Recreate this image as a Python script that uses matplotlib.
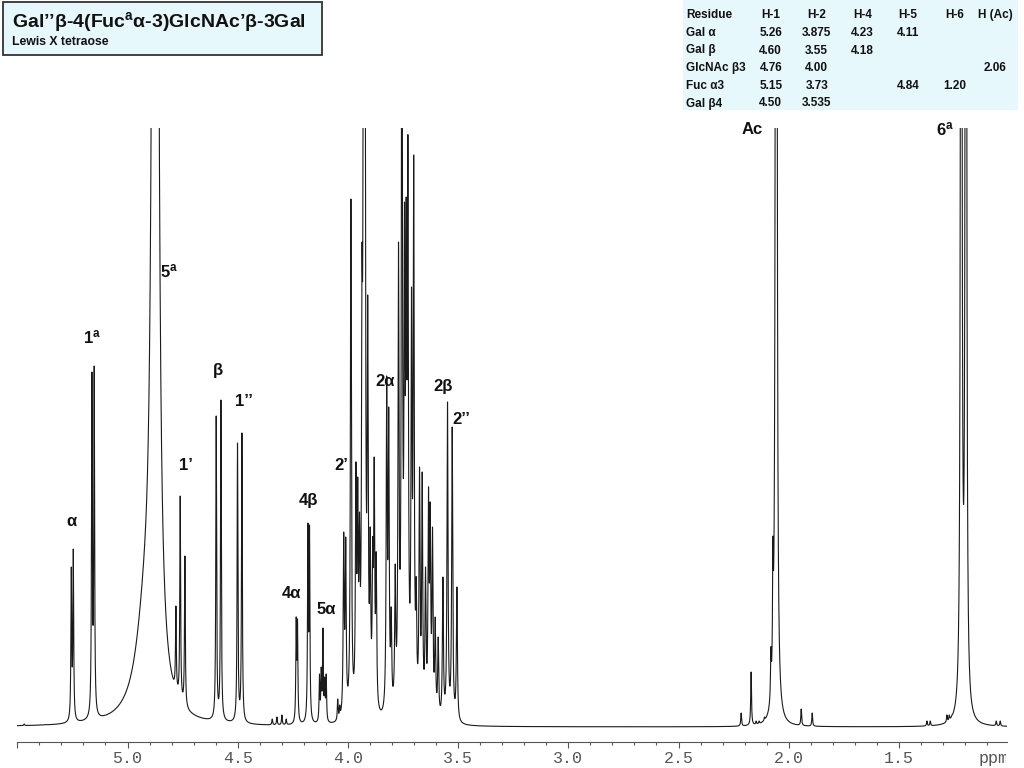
import numpy as np
import matplotlib.pyplot as plt
from matplotlib.patches import Rectangle
from matplotlib.transforms import Bbox, TransformedBbox

plt.rcParams['mathtext.fontset'] = 'custom'
plt.rcParams['mathtext.rm'] = 'Liberation Sans'
plt.rcParams['mathtext.bf'] = 'Liberation Sans:bold'
plt.rcParams['mathtext.it'] = 'Liberation Sans:italic'

# peak list: shift (ppm), apparent height above baseline
peak_ppm = [5.469, 5.373,
            5.255, 5.246, 5.1615, 5.1511,
            4.7804, 4.7609, 4.7396,
            4.5976, 4.5762, 4.5009, 4.4809,
            4.3435, 4.3221, 4.2995, 4.2800,
            4.2346, 4.2287, 4.1815, 4.1742,
            4.1289, 4.1211, 4.1134, 4.1053, 4.0985,
            4.0463, 4.0372,
            4.0191, 4.0100, 3.9864, 3.9637, 3.9555, 3.9474, 3.9360, 3.9292,
            3.9224, 3.9102, 3.8988, 3.8875, 3.8807, 3.8716, 3.8240, 3.8149,
            3.8035, 3.7854, 3.7704, 3.7550, 3.7432, 3.7355, 3.7278, 3.7114,
            3.7015, 3.6901, 3.6751, 3.6629, 3.6479, 3.6343, 3.6266, 3.6162,
            3.6039, 3.5903, 3.5690, 3.5481, 3.5268, 3.5055,
            2.2159, 2.1706, 2.1479, 2.1343, 2.1099, 2.0808, 2.0717, 2.0567,
            1.9433, 1.8934,
            1.3729, 1.3579, 1.2822, 1.2717, 1.2595, 1.2173, 1.1960,
            1.0585, 1.0404]
peak_h = [3, 2,
          160, 178, 355, 361,
          121, 231, 171,
          311, 327, 284, 294,
          8, 10, 12, 8,
          110, 108, 204, 202,
          53, 60, 99, 50, 53,
          28, 22,
          195, 190, 528, 265, 250, 215, 480, 900,
          850, 432, 200, 190, 270, 175, 351, 320,
          120, 163, 485, 900, 525, 530, 592, 440,
          572, 150, 260, 255, 160, 240, 225, 200,
          110, 90, 150, 325, 300, 140,
          14, 55, 6, 6, 10, 80, 190, 4000,
          18, 14,
          6, 6, 12, 12, 12, 3000, 3000,
          6, 6]
line_w = 0.0021      # half width of the sharp lines (ppm)
cluster_w = 0.0027   # slightly broader in the crowded 3.5-4.02 ppm region

# HOD / Fuc H-5 hump
water_ppm = [4.874, 4.92]
water_h = [4000, 90]
water_w = [0.0074, 0.05]

residues = ['Residue', 'Gal \u03b1', 'Gal \u03b2', 'GlcNAc \u03b23', 'Fuc \u03b13', 'Gal \u03b24']
columns = ['H-1', 'H-2', 'H-4', 'H-5', 'H-6', 'H (Ac)']
table_vals = [['5.26', '3.875', '4.23', '4.11', '', ''],
              ['4.60', '3.55', '4.18', '', '', ''],
              ['4.76', '4.00', '', '', '', '2.06'],
              ['5.15', '3.73', '', '4.84', '1.20', ''],
              ['4.50', '3.535', '', '', '', '']]

labels = [('\u03b1', 5.255, 205), (r'$\mathbf{1}^{\mathbf{a}}$', 5.160, 390),
          (r'$\mathbf{5}^{\mathbf{a}}$', 4.810, 456), ('1\u2019', 4.734, 261),
          ('\u03b2', 4.589, 357), ('1\u2019\u2019', 4.471, 325),
          ('4\u03b1', 4.258, 133), ('4\u03b2', 4.180, 227), ('5\u03b1', 4.098, 117),
          ('2\u2019', 4.030, 262), ('2\u03b1', 3.831, 346), ('2\u03b2', 3.568, 341),
          ('2\u2019\u2019', 3.487, 307), ('Ac', 2.166, 598),
          (r'$\mathbf{6}^{\mathbf{a}}$', 1.291, 598)]


def lorentz(x, x0, w):
    return w**2 / (w**2 + (x - x0)**2)


def water_curve(x):
    total = np.zeros_like(x)
    for c, h, w in zip(water_ppm, water_h, water_w):
        total += h * lorentz(x, c, w)
    return total


def fit_amplitudes(shifts, widths, heights):
    # scale amplitudes so that the summed curve hits the read heights
    mat = lorentz(shifts[:, None], shifts[None, :], widths[None, :])
    bg = water_curve(shifts)
    target = np.maximum(heights - bg, 0.5)
    amp = target.copy()
    for _ in range(300):
        amp *= target / (mat @ amp)
    return amp


shifts = np.array(peak_ppm)
widths = np.where((shifts > 3.5) & (shifts < 4.02), cluster_w, line_w)
amps = fit_amplitudes(shifts, widths, np.array(peak_h, dtype=float))

x = np.linspace(5.5, 1.0, 45001)
y = water_curve(x)
for c, w, a in zip(shifts, widths, amps):
    y += a * lorentz(x, c, w)

fig = plt.figure(figsize=(10.24, 7.68), dpi=100)
ax = fig.add_axes([17.3 / 1024, 26 / 768, 989.6 / 1024, 614 / 768])
ax.plot(x, y, color='#1a1a1a', lw=0.8)
ax.set_xlim(5.5, 1.01)
ax.set_ylim(-15, 599)

for s in ['top', 'left', 'right']:
    ax.spines[s].set_visible(False)
ax.spines['bottom'].set_color('#555555')
ax.spines['bottom'].set_linewidth(0.8)
ax.set_yticks([])
major = [5.5, 5.0, 4.5, 4.0, 3.5, 3.0, 2.5, 2.0, 1.5]
ax.set_xticks(major)
ax.set_xticklabels([''] + ['%.1f' % v for v in major[1:]])
ax.set_xticks(np.arange(1.1, 5.45, 0.1), minor=True)
ax.tick_params(axis='x', which='major', direction='out', length=4.3, width=0.8,
               color='#555555', pad=2.5, labelsize=12, labelcolor='#555555')
ax.tick_params(axis='x', which='minor', direction='out', length=1.8, width=0.8,
               color='#555555')
for t in ax.get_xticklabels():
    t.set_fontfamily('Liberation Mono')

ppm_txt = fig.text(979 / 1024, 1 - 758 / 768, 'ppm', family='Liberation Mono',
                   fontsize=12, color='#555555', ha='left', va='center')
ppm_txt.set_clip_box(TransformedBbox(Bbox([[0, 0], [1006 / 1024, 1]]), fig.transFigure))
ppm_txt.set_clip_on(True)

for txt, px, py in labels:
    ax.text(px, py, txt, ha='center', va='center', family='Liberation Sans',
            fontweight='bold', fontsize=12, color='#111111')

# title box
fig.patches.append(Rectangle((3 / 1024, 1 - 55 / 768), 319 / 1024, 53 / 768,
                             transform=fig.transFigure, facecolor='#e6f8fc',
                             edgecolor='#333333', lw=1.3))
fig.text(12 / 1024, 1 - 22 / 768,
         'Gal\u2019\u2019\u03b2-4(Fuc$^{\\mathbf{a}}$\u03b1-3)GlcNAc\u2019\u03b2-3Gal',
         family='Liberation Sans', fontweight='bold', fontsize=14,
         ha='left', va='center', color='#111111')
fig.text(12 / 1024, 1 - 42 / 768, 'Lewis X tetraose', family='Liberation Sans',
         fontweight='bold', fontsize=8.8, ha='left', va='center', color='#111111')

# shift table
fig.patches.append(Rectangle((683 / 1024, 1 - 110 / 768), 335 / 1024, 110 / 768,
                             transform=fig.transFigure, facecolor='#e6f8fc',
                             edgecolor='none'))
col_x = [770.7, 816.7, 862.7, 908, 955, 995]
row_y = [15, 33, 50.5, 68.3, 86, 103.5]
for i, name in enumerate(residues):
    fig.text(686 / 1024, 1 - row_y[i] / 768, name, family='Liberation Sans',
             fontweight='bold', fontsize=8.5, ha='left', va='center', color='#111111')
    row = columns if i == 0 else table_vals[i - 1]
    for cx, val in zip(col_x, row):
        fig.text(cx / 1024, 1 - row_y[i] / 768, val, family='Liberation Sans',
                 fontweight='bold', fontsize=8.5, ha='center', va='center',
                 color='#111111')

fig.savefig('out.png', dpi=100)
